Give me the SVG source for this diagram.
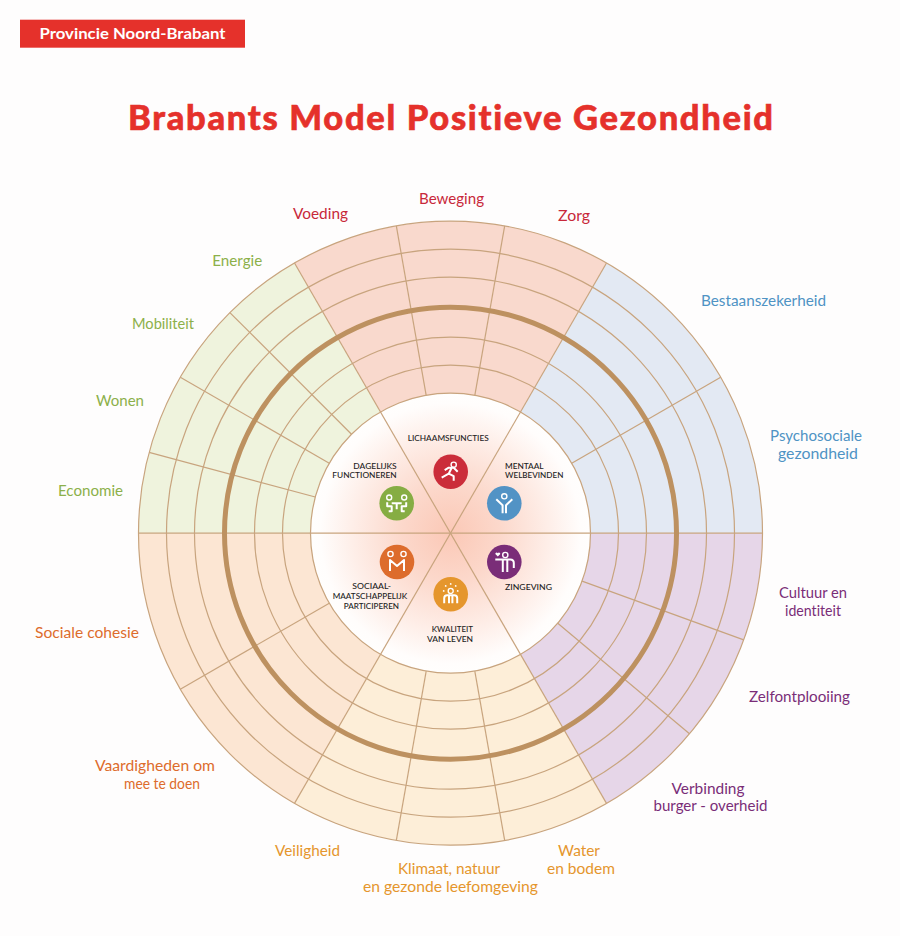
<svg xmlns="http://www.w3.org/2000/svg" width="900" height="936" viewBox="0 0 900 936">
<style>
text{font-family:"Lato","Liberation Sans",sans-serif;font-variant-ligatures:none;}
.lb{font-size:15px;font-weight:400;text-anchor:middle;}
.in{font-size:8.4px;font-weight:500;fill:#222;text-anchor:middle;}
.ln{fill:none;stroke:#c8a47e;stroke-width:1.2;}
.ic{fill:none;stroke:#fff;stroke-width:2;stroke-linecap:butt;stroke-linejoin:round;}
.hd{fill:none;stroke:#fff;stroke-width:1.4;}
.r{fill:#c8283a}.g{fill:#8cb04a}.b{fill:#4f93c4}.p{fill:#7a2d78}.y{fill:#e5962d}.o{fill:#dd6c2c}
</style>
<defs>
<radialGradient id="core" gradientUnits="userSpaceOnUse" cx="450.5" cy="533.2" r="140">
<stop offset="0" stop-color="#fbc8b6"/><stop offset="0.35" stop-color="#fcd8cb"/><stop offset="0.7" stop-color="#feeee8"/><stop offset="0.93" stop-color="#fffdfc"/><stop offset="1" stop-color="#fffefd"/>
</radialGradient>
</defs>
<rect width="900" height="936" fill="#fefdfd"/>
<g id="badge"><rect x="20" y="19.7" width="225" height="28" fill="#e5312b"/>
<text x="132.5" y="39" font-size="14.5" font-weight="700" fill="#fff" text-anchor="middle" textLength="186" lengthAdjust="spacingAndGlyphs">Provincie Noord-Brabant</text></g>
<text id="title" x="450.5" y="129.5" font-size="34.5" font-weight="900" fill="#e5312b" stroke="#e5312b" stroke-width="0.6" text-anchor="middle" textLength="645" lengthAdjust="spacing">Brabants Model Positieve Gezondheid</text>

<g id="sectors">
<path fill="#f9d9cd" d="M294.5,263A312,312 0 0 1 606.5,263L450.5,533.2Z"/>
<path fill="#e3e9f3" d="M606.5,263A312,312 0 0 1 762.5,533.2L450.5,533.2Z"/>
<path fill="#e6d6e8" d="M762.5,533.2A312,312 0 0 1 606.5,803.4L450.5,533.2Z"/>
<path fill="#fdeed8" d="M606.5,803.4A312,312 0 0 1 294.5,803.4L450.5,533.2Z"/>
<path fill="#fce6d3" d="M294.5,803.4A312,312 0 0 1 138.5,533.2L450.5,533.2Z"/>
<path fill="#eff3dd" d="M138.5,533.2A312,312 0 0 1 294.5,263L450.5,533.2Z"/>
</g>
<circle id="core-disc" cx="450.5" cy="533.2" r="140" fill="url(#core)"/>
<g id="rings" class="ln">
<circle cx="450.5" cy="533.2" r="140"/><circle cx="450.5" cy="533.2" r="168"/><circle cx="450.5" cy="533.2" r="196"/><circle cx="450.5" cy="533.2" r="256"/><circle cx="450.5" cy="533.2" r="284"/><circle cx="450.5" cy="533.2" r="312"/>
</g>
<g id="connectors" class="ln" transform="translate(450.5 533.2)">
<g id="dividers">
<line x1="140" x2="312" transform="rotate(-80)"/><line x1="140" x2="312" transform="rotate(-100)"/>
<line x1="140" x2="312" transform="rotate(-135)"/><line x1="140" x2="312" transform="rotate(-150)"/><line x1="140" x2="312" transform="rotate(-165)"/>
<line x1="140" x2="312" transform="rotate(-30)"/>
<line x1="140" x2="312" transform="rotate(20)"/><line x1="140" x2="312" transform="rotate(40)"/>
<line x1="140" x2="312" transform="rotate(80)"/><line x1="140" x2="312" transform="rotate(100)"/>
<line x1="140" x2="312" transform="rotate(150)"/>
</g>
<g id="spokes"><line x1="-312" x2="312"/><line x1="-312" x2="312" transform="rotate(60)"/><line x1="-312" x2="312" transform="rotate(120)"/></g>
</g>
<circle id="thick-ring" cx="450.5" cy="533.2" r="226" fill="none" stroke="#bd9160" stroke-width="5"/>

<g id="outer-labels">
<text class="lb r" x="320.5" y="219" textLength="55" lengthAdjust="spacingAndGlyphs">Voeding</text>
<text class="lb r" x="451.5" y="204" textLength="65" lengthAdjust="spacingAndGlyphs">Beweging</text>
<text class="lb r" x="574" y="221" textLength="32" lengthAdjust="spacingAndGlyphs">Zorg</text>
<text class="lb g" x="237.3" y="266" textLength="50" lengthAdjust="spacingAndGlyphs">Energie</text>
<text class="lb g" x="163" y="329" textLength="62" lengthAdjust="spacingAndGlyphs">Mobiliteit</text>
<text class="lb g" x="120" y="406" textLength="48" lengthAdjust="spacingAndGlyphs">Wonen</text>
<text class="lb g" x="90.5" y="496" textLength="65" lengthAdjust="spacingAndGlyphs">Economie</text>
<text class="lb b" x="763.5" y="306" textLength="125" lengthAdjust="spacingAndGlyphs">Bestaanszekerheid</text>
<text class="lb b" x="816" y="441" textLength="92" lengthAdjust="spacingAndGlyphs">Psychosociale</text>
<text class="lb b" x="818" y="459" textLength="80" lengthAdjust="spacingAndGlyphs">gezondheid</text>
<text class="lb p" x="813" y="598" textLength="68" lengthAdjust="spacingAndGlyphs">Cultuur en</text>
<text class="lb p" x="813" y="616" textLength="56" lengthAdjust="spacingAndGlyphs">identiteit</text>
<text class="lb p" x="799.5" y="702" textLength="101" lengthAdjust="spacingAndGlyphs">Zelfontplooiing</text>
<text class="lb p" x="708" y="794" textLength="73" lengthAdjust="spacingAndGlyphs">Verbinding</text>
<text class="lb p" x="710.5" y="811" textLength="114" lengthAdjust="spacingAndGlyphs">burger - overheid</text>
<text class="lb y" x="579" y="856" textLength="42" lengthAdjust="spacingAndGlyphs">Water</text>
<text class="lb y" x="581" y="874" textLength="68" lengthAdjust="spacingAndGlyphs">en bodem</text>
<text class="lb y" x="449" y="874" textLength="102" lengthAdjust="spacingAndGlyphs">Klimaat, natuur</text>
<text class="lb y" x="450.5" y="892" textLength="175" lengthAdjust="spacingAndGlyphs">en gezonde leefomgeving</text>
<text class="lb y" x="307.5" y="856" textLength="65" lengthAdjust="spacingAndGlyphs">Veiligheid</text>
<text class="lb o" x="155" y="771" textLength="120" lengthAdjust="spacingAndGlyphs">Vaardigheden om</text>
<text class="lb o" x="162" y="789" textLength="76" lengthAdjust="spacingAndGlyphs">mee te doen</text>
<text class="lb o" x="87" y="638" textLength="104" lengthAdjust="spacingAndGlyphs">Sociale cohesie</text>
</g>

<g id="inner-labels">
<text class="in" x="448.2" y="441" textLength="81" lengthAdjust="spacingAndGlyphs">LICHAAMSFUNCTIES</text>
<text class="in" x="375" y="469.3" textLength="43.4" lengthAdjust="spacingAndGlyphs">DAGELIJKS</text>
<text class="in" x="364.5" y="478.3" textLength="64.4" lengthAdjust="spacingAndGlyphs">FUNCTIONEREN</text>
<text class="in" x="524.3" y="469.3" textLength="38.7" lengthAdjust="spacingAndGlyphs">MENTAAL</text>
<text class="in" x="534.2" y="478.3" textLength="58.3" lengthAdjust="spacingAndGlyphs">WELBEVINDEN</text>
<text class="in" x="371.7" y="589.3" textLength="38.7" lengthAdjust="spacingAndGlyphs">SOCIAAL-</text>
<text class="in" x="370" y="599.3" textLength="74.6" lengthAdjust="spacingAndGlyphs">MAATSCHAPPELIJK</text>
<text class="in" x="371.4" y="609" textLength="55.3" lengthAdjust="spacingAndGlyphs">PARTICIPEREN</text>
<text class="in" x="528.5" y="589.7" textLength="47" lengthAdjust="spacingAndGlyphs">ZINGEVING</text>
<text class="in" x="452.4" y="632" textLength="41.3" lengthAdjust="spacingAndGlyphs">KWALITEIT</text>
<text class="in" x="450" y="641.7" textLength="46" lengthAdjust="spacingAndGlyphs">VAN LEVEN</text>
</g>

<g id="icon-lichaamsfuncties" transform="translate(450.7 471.7)">
<circle r="17.3" fill="#cb2d3a"/><circle class="hd" cx="3" cy="-7" r="2.6"/>
<path class="ic" d="M-6,-1.5L-2,-4H3L7,0M1,-4L-2,2L-9,6M-2,2L3,4.5V9"/>
</g>
<g id="icon-mentaal" transform="translate(504.3 503.3)">
<circle r="17.3" fill="#5293c5"/><circle class="hd" cy="-7" r="2.6"/>
<path class="ic" d="M-8,-4L-1.7,2V10M8,-4L1.7,2V10"/>
</g>
<g id="icon-dagelijks" transform="translate(396.7 503.3)">
<circle r="17.3" fill="#86ad43"/><circle class="hd" cx="-7.5" cy="-5.8" r="2.5"/><circle class="hd" cx="7.5" cy="-5.8" r="2.5"/>
<path class="ic" d="M-9.5,-1V3H-5V8H-8M9.5,-1V3H5V8H8M-5,0H5M0,0V6"/>
</g>
<g id="icon-sociaal" transform="translate(397 562)">
<circle r="17.3" fill="#dd6c2c"/><circle class="hd" cx="-6.5" cy="-8" r="2.6"/><circle class="hd" cx="6.5" cy="-8" r="2.6"/>
<path class="ic" stroke-width="2.4" d="M-7,9V-2L0,4L7,-2V9"/>
</g>
<g id="icon-zingeving" transform="translate(504.3 562)">
<circle r="17.3" fill="#7a2d78"/><circle class="hd" cx="1" cy="-7" r="2.6"/>
<path d="M-6.5,-5.5L-9,-8Q-9,-9.5 -7.7,-9.5Q-6.9,-9.5 -6.5,-8.8Q-6.1,-9.5 -5.3,-9.5Q-4,-9.5 -4,-8Z" fill="#fff"/>
<path class="ic" d="M-9,-2.5H6Q9.5,-2.5 9.5,1V6M-1.5,-2.5V10M3,-2.5V10"/>
</g>
<g id="icon-kwaliteit" transform="translate(450.7 594.3)">
<circle r="17.3" fill="#e5962d"/><circle class="hd" cy="-3.4" r="2.5"/>
<g fill="#fff"><circle cy="-10.4" r=".9"/><circle cx="5" cy="-8.4" r=".9"/><circle cx="-5" cy="-8.4" r=".9"/><circle cx="7" cy="-3.4" r=".9"/><circle cx="-7" cy="-3.4" r=".9"/></g>
<path class="ic" d="M-6.5,9V4Q-6.5,1 -3.5,1H3.5Q6.5,1 6.5,4V9M-1.7,1V9M1.7,1V9"/>
</g>
</svg>
